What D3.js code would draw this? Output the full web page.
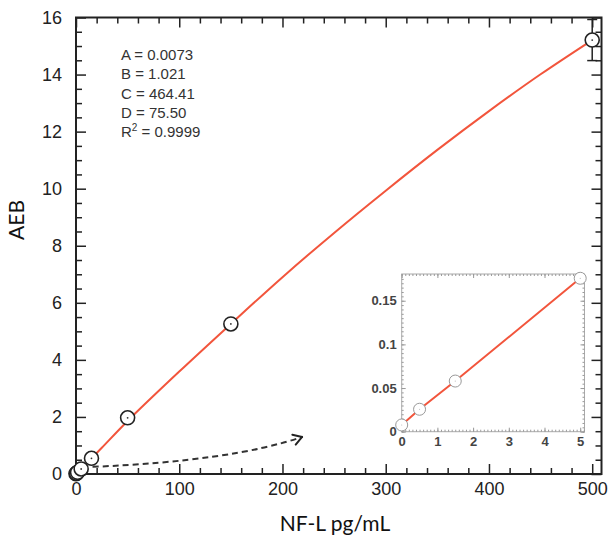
<!DOCTYPE html>
<html>
<head>
<meta charset="utf-8">
<script src="https://cdn.jsdelivr.net/npm/d3@7"></script>
<style>
  body { margin: 0; background: #fff; }
  svg { display: block; }
  .tick text { font-family: "Liberation Sans", Arial, sans-serif; }
</style>
</head>
<body>
<div id="chart"></div>
<script>
// measured standards (NF-L pg/mL vs AEB)
const conc = [0, 0.5, 1.5, 5, 15, 50, 150, 500]
const aeb = [0.0077, 0.0257, 0.058, 0.176, 0.55, 1.97, 5.26, 15.21]
const aebErr = [0, 0, 0, 0, 0, 0, 0.15, 0.72]

// fitted 4PL curve
const fitX = [0, 5, 15, 25, 50, 100, 150, 200, 250, 300, 350, 400, 450, 500]
const fitY = [0.0077, 0.18, 0.55, 0.92, 1.86, 3.59, 5.26, 6.9, 8.45, 9.93, 11.36, 12.72, 14.01, 15.21]

// inset (low end)
const insetX = [0, 0.5, 1.5, 5]
const insetY = [0.0077, 0.0257, 0.058, 0.1757]

// tick labels
const xTicks = [0, 100, 200, 300, 400, 500]
const yTicks = [0, 2, 4, 6, 8, 10, 12, 14, 16]
const insetXTicks = [0, 1, 2, 3, 4, 5]
const insetYTicks = [0, 0.05, 0.1, 0.15]

const fitParams = ["A = 0.0073", "B = 1.021", "C = 464.41", "D = 75.50"]

// dashed arrow from low end toward the inset (data units)
const arrowPts = [[16, 0.25], [150, 0.45], [219, 1.3]]

const width = 609, height = 535
const svg = d3.select("#chart").append("svg")
    .attr("width", width).attr("height", height)

const m = {left: 76, top: 17.5, right: 601.5, bottom: 474}
const x = d3.scaleLinear().domain([0, 509]).range([m.left, m.right])
const y = d3.scaleLinear().domain([0, 16]).range([m.bottom, m.top])

const xMinor = d3.range(0, 509, 20).filter(v => v % 100 !== 0)
const yMinor = d3.range(0, 16, 0.5).filter(v => v % 2 !== 0)

function styleAxis(g, color, fontSize) {
    g.select(".domain").remove()
    g.selectAll(".tick line").attr("stroke", color).attr("stroke-width", 1.5)
    g.selectAll(".tick text").attr("fill", color).style("font-size", fontSize + "px")
}

// main axes: ticks point inward on all four sides
const xb = svg.append("g").attr("transform", `translate(0,${m.bottom})`)
xb.call(d3.axisBottom(x).tickValues(xTicks).tickSize(-10).tickPadding(8).tickSizeOuter(0))
styleAxis(xb, "#222", 18)
const xbm = svg.append("g").attr("transform", `translate(0,${m.bottom})`)
xbm.call(d3.axisBottom(x).tickValues(xMinor).tickSize(-6).tickFormat(""))
styleAxis(xbm, "#222", 18)

const xt = svg.append("g").attr("transform", `translate(0,${m.top})`)
xt.call(d3.axisTop(x).tickValues(xTicks).tickSize(-10).tickFormat(""))
styleAxis(xt, "#222", 18)
const xtm = svg.append("g").attr("transform", `translate(0,${m.top})`)
xtm.call(d3.axisTop(x).tickValues(xMinor).tickSize(-6).tickFormat(""))
styleAxis(xtm, "#222", 18)

const yl = svg.append("g").attr("transform", `translate(${m.left},0)`)
yl.call(d3.axisLeft(y).tickValues(yTicks).tickSize(-10).tickPadding(14))
styleAxis(yl, "#222", 18)
const ylm = svg.append("g").attr("transform", `translate(${m.left},0)`)
ylm.call(d3.axisLeft(y).tickValues(yMinor).tickSize(-6).tickFormat(""))
styleAxis(ylm, "#222", 18)

const yr = svg.append("g").attr("transform", `translate(${m.right},0)`)
yr.call(d3.axisRight(y).tickValues(yTicks).tickSize(-10).tickFormat(""))
styleAxis(yr, "#222", 18)
const yrm = svg.append("g").attr("transform", `translate(${m.right},0)`)
yrm.call(d3.axisRight(y).tickValues(yMinor).tickSize(-6).tickFormat(""))
styleAxis(yrm, "#222", 18)

svg.append("rect")
    .attr("x", m.left).attr("y", m.top)
    .attr("width", m.right - m.left).attr("height", m.bottom - m.top)
    .attr("fill", "none").attr("stroke", "#222").attr("stroke-width", 2)

// axis titles
svg.append("text")
    .attr("x", 335).attr("y", 531)
    .attr("text-anchor", "middle")
    .style("font-family", "Lato, 'Open Sans', sans-serif").style("font-size", "21px")
    .attr("fill", "#111")
    .text("NF-L pg/mL")
svg.append("text")
    .attr("transform", "translate(24,220) rotate(-90)")
    .attr("text-anchor", "middle")
    .style("font-family", "Lato, 'Open Sans', sans-serif").style("font-size", "21px")
    .attr("fill", "#111")
    .text("AEB")

// fit parameters
const pt = svg.append("g")
    .style("font-family", "'Liberation Sans', Arial, sans-serif")
    .style("font-size", "15px").attr("fill", "#333")
fitParams.forEach((s, i) => {
    pt.append("text").attr("x", 121).attr("y", 60 + i * 19.3).text(s)
})
const r2 = pt.append("text").attr("x", 121).attr("y", 60 + 4 * 19.3)
r2.append("tspan").text("R")
r2.append("tspan").attr("dy", -6).style("font-size", "10px").text("2")
r2.append("tspan").attr("dy", 6).text(" = 0.9999")

// fitted curve
const fitLine = d3.line()
    .x((d, i) => x(fitX[i])).y(d => y(d))
    .curve(d3.curveCatmullRom)
svg.append("path")
    .datum(fitY)
    .attr("d", fitLine)
    .attr("fill", "none").attr("stroke", "#f2553c").attr("stroke-width", 2)

// error bars
const errs = conc.map((c, i) => ({c, v: aeb[i], e: aebErr[i]})).filter(d => d.e > 0)
const eg = svg.append("g").attr("stroke", "#222").attr("stroke-width", 1.5)
errs.forEach(d => {
    eg.append("line").attr("x1", x(d.c)).attr("x2", x(d.c))
        .attr("y1", y(d.v - d.e)).attr("y2", y(d.v + d.e))
    ;[d.v - d.e, d.v + d.e].forEach(v => {
        eg.append("line").attr("x1", x(d.c) - 5).attr("x2", x(d.c) + 5)
            .attr("y1", y(v)).attr("y2", y(v))
    })
})

// standards
const pts = svg.append("g")
conc.forEach((c, i) => {
    pts.append("circle").attr("cx", x(c)).attr("cy", y(aeb[i])).attr("r", 7)
        .attr("fill", "#fff").attr("stroke", "#222").attr("stroke-width", 1.6)
    pts.append("circle").attr("cx", x(c)).attr("cy", y(aeb[i])).attr("r", 0.9)
        .attr("fill", "#333")
})

// dashed arrow
const ap = arrowPts.map(p => [x(p[0]), y(p[1])])
svg.append("path")
    .attr("d", `M${ap[0][0]},${ap[0][1]} Q${ap[1][0]},${ap[1][1]} ${ap[2][0]},${ap[2][1]}`)
    .attr("fill", "none").attr("stroke", "#333").attr("stroke-width", 2)
    .attr("stroke-dasharray", "6,4")
const ang = Math.atan2(ap[2][1] - ap[1][1], ap[2][0] - ap[1][0])
const headLen = 10
;[-0.55, 0.55].forEach(a => {
    svg.append("line")
        .attr("x1", ap[2][0]).attr("y1", ap[2][1])
        .attr("x2", ap[2][0] - headLen * Math.cos(ang + a))
        .attr("y2", ap[2][1] - headLen * Math.sin(ang + a))
        .attr("stroke", "#222").attr("stroke-width", 2).attr("stroke-linecap", "round")
})

// inset
const im = {left: 401.7, top: 274, right: 584.5, bottom: 431.7}
const ix = d3.scaleLinear().domain([0, 5.12]).range([im.left, im.right])
const iy = d3.scaleLinear().domain([0, 0.1806]).range([im.bottom, im.top])

svg.append("rect")
    .attr("x", im.left).attr("y", im.top)
    .attr("width", im.right - im.left).attr("height", im.bottom - im.top)
    .attr("fill", "#fff").attr("stroke", "#aaa").attr("stroke-width", 1)

const ixMinor = d3.range(0, 5.12, 0.1)
const iyMinor = d3.range(0, 0.18, 0.005)

function insetAxis(axis, tx, ty, values, size, fmt) {
    const g = svg.append("g").attr("transform", `translate(${tx},${ty})`)
    g.call(axis.tickValues(values).tickSize(size).tickPadding(5).tickFormat(fmt))
    g.select(".domain").remove()
    g.selectAll(".tick line").attr("stroke", "#999").attr("stroke-width", 1)
    g.selectAll(".tick text").attr("fill", "#444")
        .style("font-size", "13px").style("font-weight", "bold")
    return g
}
insetAxis(d3.axisBottom(ix), 0, im.bottom, insetXTicks, -4, d3.format("d"))
insetAxis(d3.axisBottom(ix), 0, im.bottom, ixMinor, -2, () => "")
insetAxis(d3.axisTop(ix), 0, im.top, insetXTicks, -4, () => "")
insetAxis(d3.axisTop(ix), 0, im.top, ixMinor, -2, () => "")
insetAxis(d3.axisLeft(iy), im.left, 0, insetYTicks, -4, d => d === 0 ? "0" : String(d))
insetAxis(d3.axisLeft(iy), im.left, 0, iyMinor, -2, () => "")
insetAxis(d3.axisRight(iy), im.right, 0, insetYTicks, -4, () => "")
insetAxis(d3.axisRight(iy), im.right, 0, iyMinor, -2, () => "")

svg.append("path")
    .datum(insetY)
    .attr("d", d3.line().x((d, i) => ix(insetX[i])).y(d => iy(d)))
    .attr("fill", "none").attr("stroke", "#f2553c").attr("stroke-width", 2)

insetX.forEach((c, i) => {
    svg.append("circle").attr("cx", ix(c)).attr("cy", iy(insetY[i])).attr("r", 6)
        .attr("fill", "#fff").attr("stroke", "#999").attr("stroke-width", 1)
    svg.append("circle").attr("cx", ix(c)).attr("cy", iy(insetY[i])).attr("r", 0.6)
        .attr("fill", "#bbb")
})
</script>
</body>
</html>
